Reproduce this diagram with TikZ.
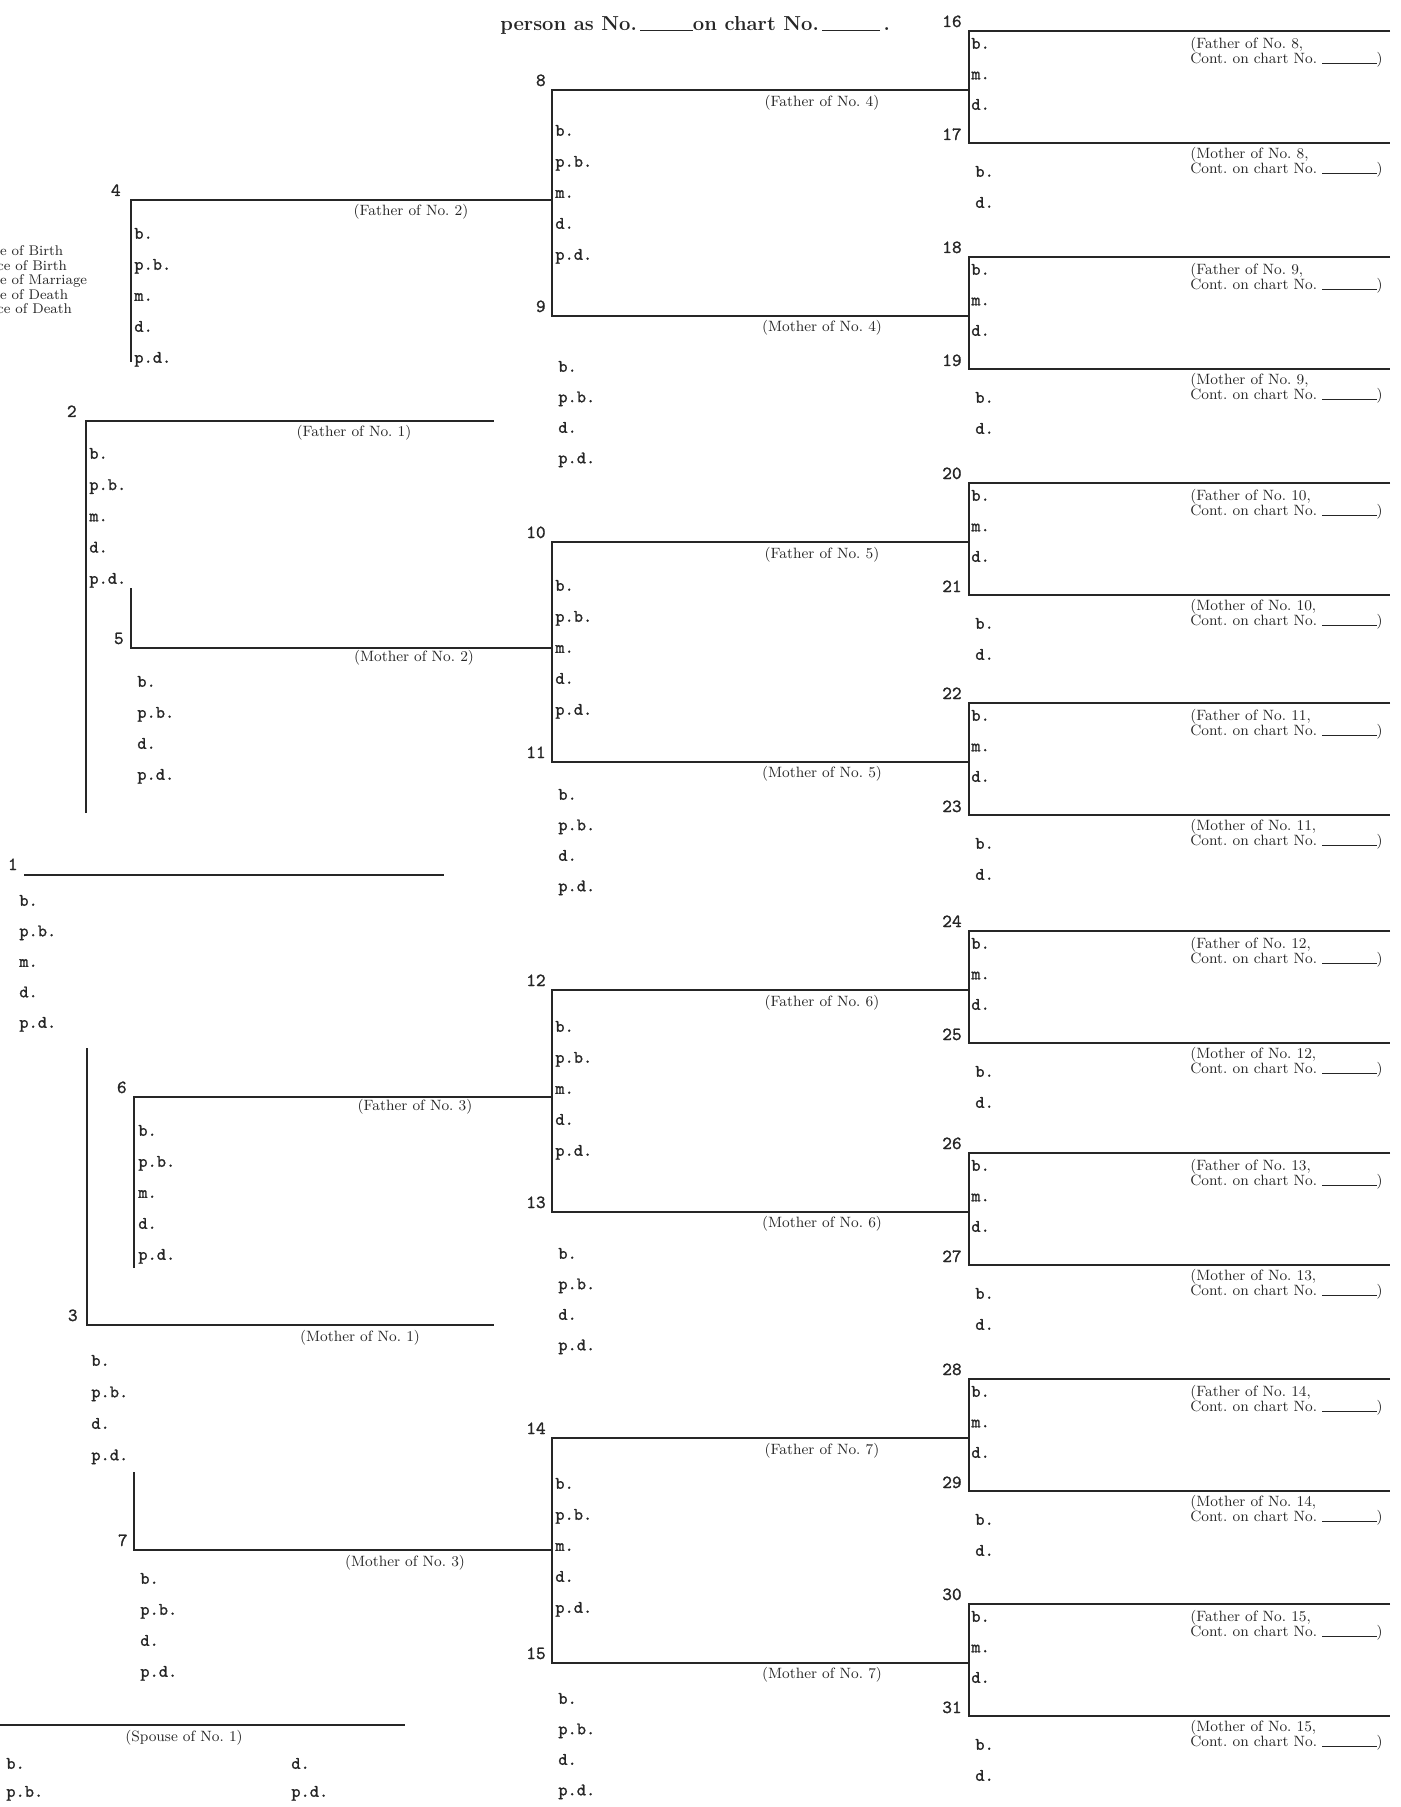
\documentclass[tikz,border=0pt]{standalone}
\usepackage{fontspec}
\newfontfamily\fldfont{Latin Modern Mono}[FakeBold=1.2]
\usepackage{tikz}

\begin{document}
\begin{tikzpicture}[
  x=0.02cm, y=-0.02cm, color=black!85,
  ln/.style={line width=1pt},
  num/.style={font=\fldfont\fontsize{10.5}{12}\selectfont,anchor=base east,inner sep=0pt},
  fld/.style={font=\fldfont\fontsize{10}{12}\selectfont,anchor=mid west,inner sep=0pt},
  rel/.style={font=\fontsize{8.5}{9}\selectfont,inner sep=0pt},
  cont/.style={font=\fontsize{8.5}{8.8}\selectfont,align=left,anchor=west,inner sep=0pt},
  leg/.style={font=\fontsize{8}{9}\selectfont,anchor=mid west,inner sep=0pt}]
\useasboundingbox (0,0) rectangle (1400,1807);
\clip (0,0) rectangle (1400,1807);
% heading line
\node[anchor=base west,inner sep=0pt,font=\bfseries\fontsize{11.5}{13}\selectfont] (hdr) at (500,31)
  {person as No.\,\rule{30pt}{0.6pt}on chart No.\,\rule{33pt}{0.6pt}\,.};
% legend (cut at left edge)
\foreach \lab [count=\i] in {Date of Birth,Place of Birth,Date of Marriage,Date of Death,Place of Death}
  \node[leg] (leg\i) at (-25,{252+14.5*(\i-1)}) {\lab};
% great-great-grandparents 16-31 (right column)
\foreach \fa/\my/\kid in {16/90/8,18/316/9,20/542/10,22/762/11,24/990/12,26/1212/13,28/1438/14,30/1663/15}{
  \pgfmathtruncatemacro\mo{\fa+1}
  \coordinate (t\fa) at (969,\my-59); \coordinate (u\fa) at (1390,\my-59);
  \coordinate (t\mo) at (969,\my+53); \coordinate (u\mo) at (1390,\my+53);
  \coordinate (j\kid) at (969,\my);
  \draw[ln] (u\fa) -- (t\fa) -- (t\mo) -- (u\mo);
  \node[num] (n\fa) at (962,\my-63) {\fa};
  \node[num] (n\mo) at (962,\my+50) {\mo};
  \foreach \lab [count=\i] in {b.,m.,d.}
    \node[fld] (f\fa-\i) at (971,{\my-45+30.5*(\i-1)}) {\lab};
  \foreach \lab [count=\i] in {b.,d.}
    \node[fld] (f\mo-\i) at (975,{\my+83+31*(\i-1)}) {\lab};
  \node[cont] (c\fa) at (1190,\my-38) {(Father of No.~\kid,\\Cont.\ on chart No.\ \rule{31pt}{0.5pt})};
  \node[cont] (c\mo) at (1190,\my+72) {(Mother of No.~\kid,\\Cont.\ on chart No.\ \rule{31pt}{0.5pt})};
}
% great-grandparents 8-15 (middle column)
\foreach \fa/\yf/\mo/\ym/\kid/\yk/\ofa/\omo in {8/90/9/316/4/200/42/52,10/542/11/762/5/648/45/34,
    12/990/13/1212/6/1097/38/43,14/1438/15/1663/7/1550/47/37}{
  \coordinate (t\fa) at (552,\yf); \coordinate (t\mo) at (552,\ym);
  \coordinate (j\kid) at (552,\yk);
  \draw[ln] (j\fa) -- (t\fa) -- (t\mo) -- (j\mo);
  \node[num] (n\fa) at (546,\yf-4) {\fa};
  \node[num] (n\mo) at (546,\ym-4) {\mo};
  \node[rel] (r\fa) at (822,\yf+13) {(Father of No.~\kid)};
  \node[rel] (r\mo) at (822,\ym+12) {(Mother of No.~\kid)};
  \foreach \lab [count=\i] in {b.,p.b.,m.,d.,p.d.}
    \node[fld] (f\fa-\i) at (555,{\yf+\ofa+31*(\i-1)}) {\lab};
  \foreach \lab [count=\i] in {b.,p.b.,d.,p.d.}
    \node[fld] (f\mo-\i) at (558,{\ym+\omo+30.5*(\i-1)}) {\lab};
}
% grandparents 4-7
\coordinate (t4) at (131,200);  \coordinate (v4) at (131,362);
\coordinate (t5) at (131,648);  \coordinate (v5) at (131,588);
\coordinate (t6) at (134,1097); \coordinate (v6) at (134,1268);
\coordinate (t7) at (134,1550); \coordinate (v7) at (134,1472);
\draw[ln] (v4) -- (t4) -- (j4);
\draw[ln] (v5) -- (t5) -- (j5);
\draw[ln] (v6) -- (t6) -- (j6);
\draw[ln] (v7) -- (t7) -- (j7);
\node[num] (n4) at (121,196)  {4};
\node[num] (n5) at (124,644)  {5};
\node[num] (n6) at (127,1093) {6};
\node[num] (n7) at (128,1546) {7};
\node[rel] (r4) at (411,212)  {(Father of No.~2)};
\node[rel] (r5) at (414,658)  {(Mother of No.~2)};
\node[rel] (r6) at (415,1107) {(Father of No.~3)};
\node[rel] (r7) at (405,1563) {(Mother of No.~3)};
\foreach \p/\xx/\yy in {4/134/235,6/138/1132}
  \foreach \lab [count=\i] in {b.,p.b.,m.,d.,p.d.}
    \node[fld] (f\p-\i) at (\xx,{\yy+31*(\i-1)}) {\lab};
\foreach \p/\xx/\yy in {5/137/683,7/140/1580}
  \foreach \lab [count=\i] in {b.,p.b.,d.,p.d.}
    \node[fld] (f\p-\i) at (\xx,{\yy+31*(\i-1)}) {\lab};
% parents 2 and 3
\coordinate (t2) at (86,421);  \coordinate (e2) at (494,421);  \coordinate (v2) at (86,813);
\coordinate (t3) at (87,1325); \coordinate (e3) at (494,1325); \coordinate (v3) at (87,1048);
\draw[ln] (v2) -- (t2) -- (e2);
\draw[ln] (v3) -- (t3) -- (e3);
\node[num] (n2) at (77,417)  {2};
\node[num] (n3) at (78,1321) {3};
\node[rel] (r2) at (354,433)  {(Father of No.~1)};
\node[rel] (r3) at (360,1338) {(Mother of No.~1)};
\foreach \lab [count=\i] in {b.,p.b.,m.,d.,p.d.}
  \node[fld] (f2-\i) at (89,{455+31.25*(\i-1)}) {\lab};
\foreach \lab [count=\i] in {b.,p.b.,d.,p.d.}
  \node[fld] (f3-\i) at (91,{1362+31.5*(\i-1)}) {\lab};
% person 1
\coordinate (t1) at (24,875); \coordinate (e1) at (444,875);
\draw[ln] (t1) -- (e1);
\node[num] (n1) at (18,870) {1};
\foreach \lab [count=\i] in {b.,p.b.,m.,d.,p.d.}
  \node[fld] (f1-\i) at (19,{902+30.5*(\i-1)}) {\lab};
% spouse of 1
\coordinate (t0) at (0,1725); \coordinate (e0) at (405,1725);
\draw[ln] (t0) -- (e0);
\node[rel] (r0) at (184,1738) {(Spouse of No.~1)};
\node[fld] (f0-1) at (6,1765)   {b.};
\node[fld] (f0-2) at (6,1793)   {p.b.};
\node[fld] (f0-3) at (291,1765) {d.};
\node[fld] (f0-4) at (291,1793) {p.d.};
\end{tikzpicture}
\end{document}
